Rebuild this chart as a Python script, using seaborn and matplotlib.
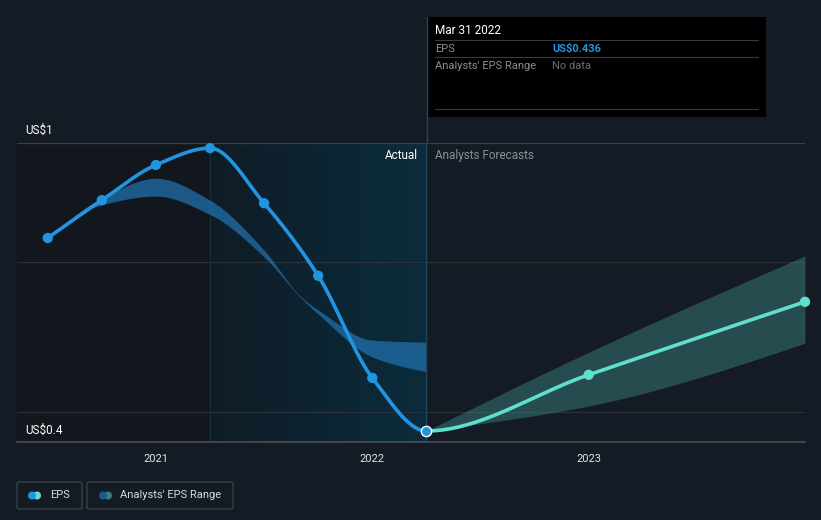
import numpy as np
import pandas as pd
import matplotlib.pyplot as plt
import matplotlib.lines as mlines
import matplotlib.patches as mpatches
from matplotlib.colors import LinearSegmentedColormap
import seaborn as sns

sns.set_style("dark")
plt.rcParams['font.family'] = ['Roboto', 'DejaVu Sans']

# ---------------- datos ----------------
# EPS real (trimestral, fracción de año)
eps_x = [2020.5, 2020.75, 2021.0, 2021.25, 2021.5, 2021.75, 2022.0, 2022.25]
eps_y = [0.814, 0.888, 0.957, 0.990, 0.882, 0.740, 0.540, 0.436]

# Rango de estimaciones pasadas de analistas
rango_x = [2020.5, 2020.75, 2021.0, 2021.25, 2021.5, 2021.667, 2021.75, 2022.0, 2022.25]
rango_alto = [0.814, 0.892, 0.931, 0.888, 0.790, 0.700, 0.673, 0.614, 0.610]
rango_bajo = [0.814, 0.879, 0.896, 0.860, 0.777, 0.698, 0.665, 0.581, 0.552]

# Pronóstico
fc_x = [2022.25, 2023.0, 2024.0]
fc_y = [0.436, 0.546, 0.689]
fc_alto = [0.436, 0.590, 0.779]
fc_bajo = [0.436, 0.485, 0.608]

grid_vals = [1.0, 0.767, 0.473]
ticks_x = [2021, 2022, 2023]
tick_labels = ['2021', '2022', '2023']

x_min, x_max = 2020.358, 2024.0
y_min, y_max = 0.4144, 1.0
corte_actual = 2022.25
inicio_sombra = 2021.25

# ---------------- colores ----------------
fondo = '#151b24'
azul = '#2394df'
turquesa = '#5fe0cf'
gris_txt = '#8a8f98'


def suavizar(x, y, n=400):
    # interpolación cúbica monótona (tipo d3 monotoneX)
    x = np.asarray(x, float)
    y = np.asarray(y, float)
    h = np.diff(x)
    d = np.diff(y) / h
    m = np.zeros_like(y)
    m[0], m[-1] = d[0], d[-1]
    for i in range(1, len(y) - 1):
        if d[i - 1] * d[i] <= 0:
            m[i] = 0
        else:
            w1 = 2 * h[i] + h[i - 1]
            w2 = h[i] + 2 * h[i - 1]
            m[i] = (w1 + w2) / (w1 / d[i - 1] + w2 / d[i])
    if len(y) > 2:
        m[0] = (3 * d[0] - m[1]) / 2 if d[0] * (3 * d[0] - m[1]) > 0 else 0
        m[-1] = (3 * d[-1] - m[-2]) / 2 if d[-1] * (3 * d[-1] - m[-2]) > 0 else 0
    xs = np.linspace(x[0], x[-1], n)
    idx = np.clip(np.searchsorted(x, xs) - 1, 0, len(h) - 1)
    t = (xs - x[idx]) / h[idx]
    h00 = 2 * t**3 - 3 * t**2 + 1
    h10 = t**3 - 2 * t**2 + t
    h01 = -2 * t**3 + 3 * t**2
    h11 = t**3 - t**2
    ys = h00 * y[idx] + h10 * h[idx] * m[idx] + h01 * y[idx + 1] + h11 * h[idx] * m[idx + 1]
    return xs, ys


W, H = 821, 520
fig = plt.figure(figsize=(W / 100, H / 100), dpi=100, facecolor=fondo)
ax = fig.add_axes([17 / W, 1 - 442 / H, (805 - 17) / W, (442 - 143) / H])
ax.set_facecolor(fondo)
ax.set_xlim(x_min, x_max)
ax.set_ylim(y_min, y_max)

# zona previa más oscura
ax.axvspan(x_min, inicio_sombra, color='#12161d', zorder=0, lw=0)
# zona "Actual" con degradé
cmap_act = LinearSegmentedColormap.from_list('act', ['#0f1c26', '#0b2c3c'])
grad = np.linspace(0, 1, 256).reshape(1, -1)
ax.imshow(grad, cmap=cmap_act, aspect='auto', extent=[inicio_sombra, corte_actual, y_min, y_max],
          zorder=0.5, interpolation='bicubic')
ax.axvline(inicio_sombra, color='#15303e', lw=0.8, zorder=0.6)

# grilla
for i, g in enumerate(grid_vals):
    ax.axhline(g, color='#3b4048' if i == 0 else '#2a3038', lw=0.9, zorder=0.7)

# rango pasado de analistas
sx, s_alto = suavizar(rango_x, rango_alto)
_, s_bajo = suavizar(rango_x, rango_bajo)
ax.fill_between(sx, s_bajo, s_alto, color='#1f6ba3', alpha=0.8, lw=0, zorder=1)

# rango de pronóstico
fx, f_alto = suavizar(fc_x, fc_alto)
_, f_bajo = suavizar(fc_x, fc_bajo)
ax.fill_between(fx, f_bajo, f_alto, color='#3f8a84', alpha=0.45, lw=0, zorder=1)

# líneas EPS: se suaviza la serie completa y se corta en el último dato real
todo_x = eps_x + fc_x[1:]
todo_y = eps_y + fc_y[1:]
tx, ty = suavizar(todo_x, todo_y, n=800)
df_linea = pd.DataFrame({'x': tx, 'y': ty})
df_eps = df_linea[df_linea['x'] <= corte_actual]
df_fc = df_linea[df_linea['x'] >= corte_actual - 0.003]
sns.lineplot(data=df_eps, x='x', y='y', color=azul, lw=2.6, ax=ax, zorder=3, clip_on=False)
sns.lineplot(data=df_fc, x='x', y='y', color=turquesa, lw=2.6, ax=ax, zorder=3, clip_on=False)
sns.scatterplot(x=eps_x[:-1], y=eps_y[:-1], color=azul, s=55, edgecolor='none', ax=ax, zorder=4, clip_on=False)
sns.scatterplot(x=fc_x[1:], y=fc_y[1:], color=turquesa, s=55, edgecolor='none', ax=ax, zorder=4, clip_on=False)
ax.scatter([eps_x[-1]], [eps_y[-1]], s=55, color=azul, edgecolor='white', linewidth=1, zorder=5, clip_on=False)

# línea vertical del corte
ax.axvline(corte_actual, color='#1b4a5e', lw=1, zorder=2)
fig.add_artist(mlines.Line2D([427 / W, 427 / W], [1 - 17 / H, 1 - 143 / H], color='#1b4a5e', lw=1))

ax.text(corte_actual - 0.04, 0.976, 'Actual', color='white', fontsize=8.5, ha='right', va='center')
ax.text(corte_actual + 0.04, 0.976, 'Analysts Forecasts', color=gris_txt, fontsize=8.5, ha='left', va='center')

# ejes
for s in ax.spines.values():
    s.set_visible(False)
ax.axhline(y_min, color='#4a4f57', lw=1.2, zorder=2, clip_on=False)
ax.set_xticks(ticks_x)
ax.set_xticklabels(tick_labels, color='#e0e3e8', fontsize=8)
ax.tick_params(axis='x', length=4, color='#4a4f57', pad=5)
ax.set_yticks([])
ax.set_xlabel('')
ax.set_ylabel('')
ax.grid(False)

fig.text(25 / W, 1 - 130 / H, 'US$1', color='white', fontsize=8.5, va='center')
fig.text(25 / W, 1 - 430 / H, 'US$0.4', color='white', fontsize=8.5, va='center')

# tooltip
fig.add_artist(mpatches.Rectangle((427 / W, 1 - 117 / H), (766 - 427) / W, 100 / H,
                                  transform=fig.transFigure, facecolor='black', edgecolor='none'))
fig.text(435 / W, 1 - 31 / H, 'Mar 31 2022', color='white', fontsize=8.5, va='center')
for yy in [40, 57, 109]:
    fig.add_artist(mlines.Line2D([435 / W, 758 / W], [1 - yy / H, 1 - yy / H], color='#3a3a3a', lw=0.8))
fig.text(435 / W, 1 - 48.5 / H, 'EPS', color=gris_txt, fontsize=8, va='center')
fig.text(552 / W, 1 - 48.5 / H, 'US$0.436', color=azul, fontsize=8, va='center', fontweight='bold')
fig.text(435 / W, 1 - 66 / H, "Analysts' EPS Range", color=gris_txt, fontsize=8, va='center')
fig.text(552 / W, 1 - 66 / H, 'No data', color='#6a6e75', fontsize=8, va='center')

# leyenda
for (x0, x1) in [(17, 82), (87, 233)]:
    fig.add_artist(mpatches.FancyBboxPatch((x0 / W, 1 - 509 / H), (x1 - x0) / W, 27 / H,
                                           boxstyle='round,pad=0,rounding_size=0.003',
                                           transform=fig.transFigure, facecolor='none',
                                           edgecolor='#3a3f47', lw=1))
leg_items = [(32, azul, turquesa, 'EPS', 50), (103, '#1f5a86', '#3c7c78', "Analysts' EPS Range", 120)]
for cx, c1, c2, txt, tx_ in leg_items:
    fig.add_artist(mpatches.Ellipse(((cx + 5) / W, 1 - 495.5 / H), 8 / W, 8 / H, transform=fig.transFigure,
                                    facecolor=c2, edgecolor='none'))
    fig.add_artist(mpatches.Ellipse((cx / W, 1 - 495.5 / H), 8 / W, 8 / H, transform=fig.transFigure,
                                    facecolor=c1, edgecolor='none'))
    fig.text(tx_ / W, 1 - 495.5 / H, txt, color='#d6d9de', fontsize=8, va='center')

plt.savefig('out.png', dpi=100, facecolor=fondo)
